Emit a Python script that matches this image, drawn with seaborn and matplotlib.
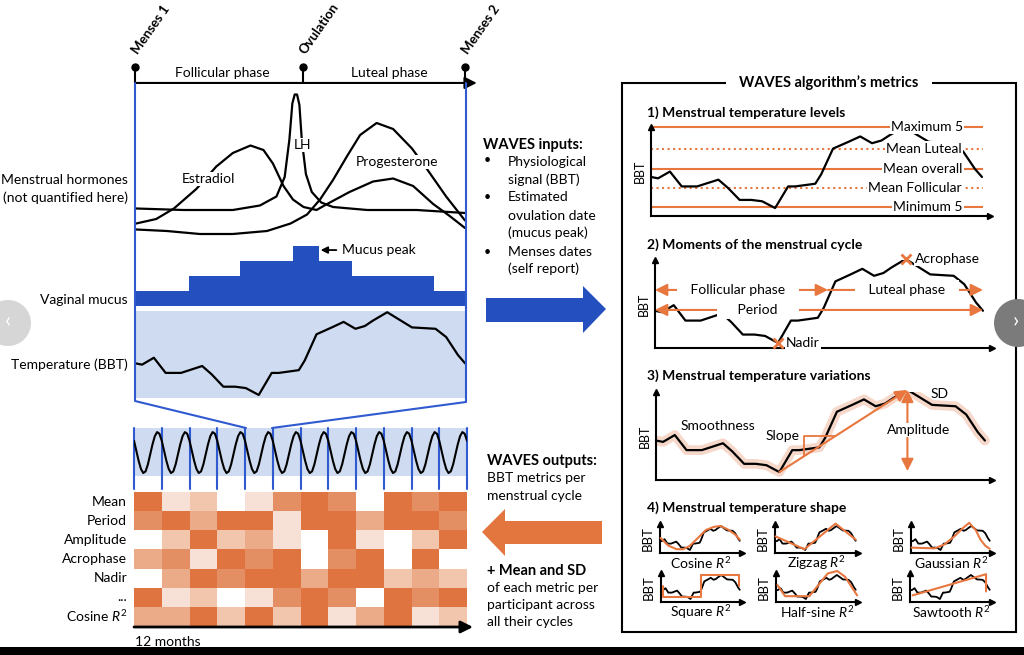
import numpy as np
import matplotlib.pyplot as plt
import seaborn as sns
from matplotlib.colors import ListedColormap
from matplotlib.patches import Rectangle, Circle, Polygon

# ---------------- data ----------------
# one menstrual cycle, day 0 - 28, hormone levels in arbitrary units
estradiol_day = [0.1, 1.8, 3.3, 5.2, 6.9, 8.3, 9.8, 10.9, 11.7, 12.6, 13.4, 14.3, 15.4, 16.3,
                 18.2, 20.2, 21.9, 23.6, 25.3, 26.7, 28.0]
estradiol_lvl = [0.11, 0.14, 0.21, 0.34, 0.49, 0.58, 0.63, 0.60, 0.51, 0.36, 0.27, 0.22, 0.20, 0.24,
                 0.32, 0.39, 0.41, 0.36, 0.24, 0.16, 0.08]
lh_day = [0.1, 4.1, 8.3, 10.6, 12.0, 12.7, 13.1, 13.35, 13.55, 13.75, 13.95, 14.15, 14.5, 15.0,
          15.8, 16.8, 19.7, 23.9, 28.0]
lh_lvl = [0.21, 0.20, 0.20, 0.23, 0.29, 0.42, 0.67, 0.91, 0.97, 0.97, 0.90, 0.67, 0.44, 0.32,
          0.25, 0.22, 0.20, 0.20, 0.18]
progesterone_day = [0.1, 2.7, 5.5, 8.3, 11.2, 13.2, 14.6, 15.7, 16.8, 18.0, 19.1, 20.5, 21.9,
                    23.5, 24.8, 26.4, 28.0]
progesterone_lvl = [0.07, 0.06, 0.04, 0.04, 0.06, 0.11, 0.17, 0.27, 0.40, 0.56, 0.70, 0.78, 0.74,
                    0.61, 0.47, 0.29, 0.13]

# vaginal mucus score (step profile)
mucus_edges = [0, 4.6, 8.9, 13.4, 15.6, 18.4, 25.4, 28]
mucus_score = [1, 2, 3, 4, 3, 2, 1]

event_names = ['Menses 1', 'Ovulation', 'Menses 2']
event_days = [0, 14.25, 28]
phase_names = ['Follicular phase', 'Luteal phase']
phase_mid = [7.4, 21.55]

# basal body temperature over one cycle
bbt_day = [0, 0.6, 1.6, 2.6, 3.9, 5.7, 6.5, 7.5, 8.5, 9.4, 10.5, 11.6, 12.2, 13.9, 14.4, 15.4,
           16.7, 17.7, 18.7, 19.5, 20.2, 21.4, 23.5, 25.5, 26.4, 27.4, 28]
bbt_temp = [36.43, 36.42, 36.47, 36.36, 36.36, 36.41, 36.35, 36.26, 36.26, 36.25, 36.20, 36.36,
            36.36, 36.38, 36.45, 36.64, 36.69, 36.73, 36.68, 36.70, 36.74, 36.80, 36.69, 36.68,
            36.62, 36.49, 36.43]

# one cycle of the schematic 12-month wave (relative level)
wave_cycle = [0.79, 0.55, 0.30, 0.10, 0.00, 0.04, 0.21, 0.45, 0.70, 0.90, 1.00, 0.96]
n_months = 12

# metrics per cycle (0 = white ... 5 = dark orange)
metric_names = ['Mean', 'Period', 'Amplitude', 'Acrophase', 'Nadir', '...', 'Cosine $R^2$']
mean_row = [5, 1, 2, 0, 1, 4, 5, 4, 0, 5, 4, 5]
period_row = [4, 5, 3, 5, 5, 1, 5, 5, 3, 5, 5, 4]
amplitude_row = [0, 2, 5, 2, 3, 1, 0, 5, 1, 0, 2, 5]
acrophase_row = [3, 4, 1, 5, 4, 5, 0, 4, 5, 0, 5, 0]
nadir_row = [0, 3, 5, 4, 5, 5, 3, 5, 5, 2, 3, 2]
other_row = [5, 1, 2, 0, 1, 4, 5, 4, 0, 5, 4, 5]
cosine_row = [3, 3, 5, 2, 5, 2, 5, 1, 3, 5, 1, 2]

level_names = ['Maximum 5', 'Mean Luteal', 'Mean overall', 'Mean Follicular', 'Minimum 5']
level_temps = [36.80, 36.64, 36.49, 36.35, 36.205]

ovulation_day = 14.77

# fitted shapes (panel 4)
shape_names = ['Cosine', 'Zigzag', 'Gaussian', 'Square', 'Half-sine', 'Sawtooth']
cosine_day = [0.2, 2.9, 5.8, 8.1, 10.4, 13.3, 16.1, 19.0, 21.3, 24.2, 26.5, 28.0]
cosine_temp = [36.50, 36.31, 36.22, 36.22, 36.30, 36.50, 36.70, 36.78, 36.80, 36.70, 36.58, 36.46]
zigzag_day = [0.2, 10.2, 21.0, 28.0]
zigzag_temp = [36.54, 36.22, 36.86, 36.46]
gaussian_day = [0.2, 8.4, 11.9, 15.4, 18.3, 20.7, 23.0, 24.7, 26.5, 28.0]
gaussian_temp = [36.26, 36.24, 36.34, 36.54, 36.74, 36.88, 36.70, 36.46, 36.30, 36.23]
square_day = [0.6, 0.6, 14.2, 14.2, 27.7, 27.7]
square_temp = [36.52, 36.26, 36.26, 36.80, 36.80, 36.52]
halfsine_day = [0.5, 3.2, 11.7, 14.9, 18.2, 21.5, 24.2, 26.4, 28.5]
halfsine_temp = [36.55, 36.27, 36.27, 36.55, 36.84, 36.90, 36.76, 36.52, 36.29]
sawtooth_day = [0.9, 26.7, 26.7]
sawtooth_temp = [36.29, 36.82, 36.39]

# ---------------- style ----------------
sns.set_theme(style='white')
plt.rcParams['font.family'] = ['Lato', 'DejaVu Sans']
plt.rcParams['mathtext.fontset'] = 'custom'
plt.rcParams['mathtext.rm'] = 'Lato'
plt.rcParams['mathtext.it'] = 'Lato:italic'
plt.rcParams['text.color'] = 'black'
plt.rcParams['ytick.color'] = 'black'

BLUE = '#244fbf'
BLUE_LINE = '#2f5ad0'
LIGHT_BLUE = '#cfdbf0'
ORANGE = '#e8773f'
ORANGE_ARROW = '#e3753e'
HALO = '#f6d8ca'
HEAT_COLORS = ['#ffffff', '#f7e1d6', '#f1c6ad', '#ebaa88', '#e48f63', '#e07440']
FS = 10

W, H = 1024, 655
fig = plt.figure(figsize=(W / 100, H / 100), dpi=100)


def px_axes(x0, y0, x1, y1, **kw):
    # axes placed with pixel box (origin top-left)
    return fig.add_axes([x0 / W, 1 - y1 / H, (x1 - x0) / W, (y1 - y0) / H], **kw)


def curve(ax, x, y, **kw):
    sns.lineplot(x=x, y=y, ax=ax, estimator=None, sort=False, legend=False, **kw)


def panel_axes(box, xmax, ylim, ms=5):
    ax = px_axes(*box)
    ax.set_xticks([])
    ax.set_yticks([])
    sns.despine(ax=ax)
    for s in ('left', 'bottom'):
        ax.spines[s].set_color('black')
        ax.spines[s].set_linewidth(1.5)
    ax.plot(1, 0, '>', color='black', ms=ms, transform=ax.transAxes, clip_on=False)
    ax.plot(0, 1, '^', color='black', ms=ms, transform=ax.transAxes, clip_on=False)
    ax.patch.set_alpha(0)
    ax.set_xlim(0, xmax)
    ax.set_ylim(*ylim)
    return ax


def bbt_label(ax, off=11, fs=9):
    ax.annotate('BBT', (0, 0.5), xycoords='axes fraction', xytext=(-off, 0),
                textcoords='offset pixels', rotation=90, ha='center', va='center', fontsize=fs)


def h_arrow(ax, x0, x1, y, style, color=ORANGE):
    ax.annotate('', xy=(x1, y), xytext=(x0, y),
                arrowprops=dict(arrowstyle=style + ',head_length=0.6,head_width=0.3',
                                color=color, lw=1.5, shrinkA=0, shrinkB=0),
                annotation_clip=False)


white_box = dict(boxstyle='square,pad=0.1', fc='white', ec='none')

# ---------------- left: hormones + timeline ----------------
hx = px_axes(135, 90, 465, 240)
hx.set_axis_off()
curve(hx, estradiol_day, estradiol_lvl, color='black', linewidth=1.6)
curve(hx, lh_day, lh_lvl, color='black', linewidth=1.6)
curve(hx, progesterone_day, progesterone_lvl, color='black', linewidth=1.6)
hx.text(6.2, 0.407, 'Estradiol', ha='center', va='center', fontsize=FS, bbox=white_box, zorder=5)
hx.text(14.2, 0.633, 'LH', ha='center', va='center', fontsize=FS, bbox=white_box, zorder=5)
hx.text(22.2, 0.52, 'Progesterone', ha='center', va='center', fontsize=FS, bbox=white_box, zorder=5)

y_axis, y_dot = 1.047, 1.153
h_arrow(hx, 0, 29.0, y_axis, '-|>', color='black')
for name, d in zip(event_names, event_days):
    hx.plot([d, d], [y_axis, y_dot], color='black', lw=1.5, clip_on=False)
    hx.plot(d, y_dot, 'o', color='black', ms=5, clip_on=False)
    hx.text(d + 0.25, 1.233, name, rotation=55, rotation_mode='anchor', ha='left',
            va='baseline', fontsize=9.5, fontweight='bold')
for name, d in zip(phase_names, phase_mid):
    hx.text(d, 1.113, name, ha='center', va='center', fontsize=FS)
hx.set_xlim(0, 28)
hx.set_ylim(0, 1)

# mucus
mx = px_axes(135, 240, 465, 306)
mx.stairs(mucus_score, mucus_edges, fill=True, color=BLUE, baseline=0)
mx.annotate('Mucus peak', xy=(15.75, 3.73), xytext=(17.6, 3.73), ha='left', va='center',
            fontsize=FS, arrowprops=dict(arrowstyle='-|>,head_length=0.4,head_width=0.2',
                                         color='black', lw=1.3, shrinkA=2, shrinkB=0,
                                         relpos=(0, 0.5)))
mx.set_xlim(0, 28)
mx.set_ylim(0, 4.4)
mx.set_axis_off()

# BBT
bx = px_axes(135, 311, 465, 398)
bx.set_facecolor(LIGHT_BLUE)
for s in bx.spines.values():
    s.set_visible(False)
curve(bx, bbt_day, bbt_temp, color='black', linewidth=1.6)
bx.set_xticks([])
bx.set_yticks([])
bx.set_xlim(0, 28)
bx.set_ylim(36.178, 36.809)

# 12-month strip
sx = px_axes(134, 428, 467, 489)
sx.set_axis_off()
sx.axhspan(-0.073, 1.10, color=LIGHT_BLUE, lw=0)
for m in range(n_months + 1):
    sx.axvline(m, color=BLUE_LINE, lw=1.5, clip_on=False)
wave = wave_cycle * n_months + [wave_cycle[0]]
wave_x = [i / len(wave_cycle) for i in range(len(wave))]
curve(sx, wave_x, wave, color='black', linewidth=1.5)
sx.set_xlim(0, n_months)
sx.set_ylim(-0.39, 1.10)

# heatmap of metrics
hm = px_axes(134, 492, 467, 626)
heat = np.array([mean_row, period_row, amplitude_row, acrophase_row, nadir_row, other_row, cosine_row])
sns.heatmap(heat, cmap=ListedColormap(HEAT_COLORS), vmin=-0.5, vmax=5.5, cbar=False,
            xticklabels=False, yticklabels=metric_names, ax=hm)
hm.tick_params(axis='y', length=0, pad=5, labelsize=FS, rotation=0)

# ---------------- right: WAVES metrics ----------------
# 1) levels
p1 = panel_axes((651, 127, 990, 216), 28.68, (36.141, 36.80))
bbt_label(p1)
dotted = {'Mean Luteal', 'Mean Follicular'}
for name, t, lx in zip(level_names, level_temps, [23.35, 23.1, 23.0, 22.33, 23.43]):
    p1.hlines(t, 0, 28.08, color=ORANGE, lw=1.5, linestyles=':' if name in dotted else '-',
              clip_on=False, zorder=1)
    p1.text(lx, t, name, ha='center', va='center', fontsize=FS, zorder=5, bbox=white_box)
curve(p1, bbt_day, bbt_temp, color='black', linewidth=1.6, zorder=3)

nadir_i = int(np.argmin(bbt_temp))
acro_i = int(np.argmax(bbt_temp))
nadir_day, nadir_temp = bbt_day[nadir_i], bbt_temp[nadir_i]
acro_day, acro_temp = bbt_day[acro_i], bbt_temp[acro_i]

# 2) moments
p2 = panel_axes((655, 260, 992, 348), 28.77, (36.164, 36.793))
bbt_label(p2)
curve(p2, bbt_day, bbt_temp, color='black', linewidth=1.6, zorder=2)
h_arrow(p2, 0, ovulation_day, 36.579, '<|-|>')
h_arrow(p2, ovulation_day, 28, 36.579, '-|>')
h_arrow(p2, 0, 28, 36.436, '<|-|>')
lab_box = dict(boxstyle='square,pad=0.25', fc='white', ec='none')
p2.text(7.09, 36.579, '   Follicular phase   ', ha='center', va='center', fontsize=FS, zorder=5, bbox=lab_box)
p2.text(21.5, 36.579, '   Luteal phase   ', ha='center', va='center', fontsize=FS, zorder=5, bbox=lab_box)
p2.text(8.79, 36.436, '     Period     ', ha='center', va='center', fontsize=FS, zorder=5, bbox=lab_box)
p2.plot(nadir_day, nadir_temp, 'x', color=ORANGE, ms=7, mew=2, clip_on=False, zorder=6)
p2.plot(acro_day, acro_temp, 'x', color=ORANGE, ms=7, mew=2, clip_on=False, zorder=6)
p2.text(12.63, nadir_temp, 'Nadir', ha='center', va='center', fontsize=FS, zorder=5, bbox=white_box)
p2.text(25.0, acro_temp, 'Acrophase', ha='center', va='center', fontsize=FS, zorder=5, bbox=white_box)

# 3) variations
p3 = panel_axes((656, 392, 992, 480), 28.6, (36.142, 36.784))
bbt_label(p3)
curve(p3, bbt_day, bbt_temp, color=HALO, linewidth=7, zorder=1,
      solid_capstyle='round', solid_joinstyle='round')
curve(p3, bbt_day, bbt_temp, color='black', linewidth=1.6, zorder=2)
p3.annotate('', xy=(acro_day, acro_temp), xytext=(nadir_day, nadir_temp),
            arrowprops=dict(arrowstyle='-|>,head_length=0.6,head_width=0.3', color=ORANGE,
                            lw=1.5, shrinkA=0, shrinkB=0), annotation_clip=False)
p3.plot([12.6, 12.6, 15.2], [36.318, 36.463, 36.463], color=ORANGE, lw=1.3, zorder=3)
p3.annotate('', xy=(acro_day, 36.207), xytext=(acro_day, acro_temp),
            arrowprops=dict(arrowstyle='<|-|>,head_length=0.6,head_width=0.3', color=ORANGE,
                            lw=1.5, shrinkA=0, shrinkB=0), annotation_clip=False)
p3.text(22.38, 36.507, 'Amplitude', ha='center', va='center', fontsize=FS, zorder=5, bbox=white_box)
p3.text(5.28, 36.536, 'Smoothness', ha='center', va='center', fontsize=FS)
p3.text(10.8, 36.463, 'Slope', ha='center', va='center', fontsize=FS)
p3.text(24.17, 36.77, 'SD', ha='center', va='center', fontsize=FS)

# 4) shapes
shape_boxes = [(660, 524, 742, 553), (775, 524, 858, 553), (911, 524, 992, 553),
               (661, 573, 742, 602), (776, 573, 858, 602), (910, 573, 992, 602)]
shape_fits = [(cosine_day, cosine_temp), (zigzag_day, zigzag_temp), (gaussian_day, gaussian_temp),
              (square_day, square_temp), (halfsine_day, halfsine_temp), (sawtooth_day, sawtooth_temp)]
for box, name, (fd, ft) in zip(shape_boxes, shape_names, shape_fits):
    ax = panel_axes(box, 28.8, (36.125, 36.85), ms=4)
    bbt_label(ax, off=12, fs=9.5)
    curve(ax, bbt_day, bbt_temp, color='black', linewidth=1.3, zorder=2)
    curve(ax, fd, ft, color=ORANGE, linewidth=1.5, zorder=3, clip_on=False)
    ax.annotate(name + ' $R^2$', (0.5, 0), xycoords='axes fraction', xytext=(0, -10),
                textcoords='offset pixels', ha='center', va='center', fontsize=FS)

# ---------------- overlay: frames, arrows, notes ----------------
ov = fig.add_axes([0, 0, 1, 1], zorder=10)
ov.set_xlim(0, W)
ov.set_ylim(H, 0)
ov.set_axis_off()

ov.plot([135, 135, 246], [83, 401, 428], color=BLUE_LINE, lw=1.5)
ov.plot([466, 466, 272], [83, 402, 428], color=BLUE_LINE, lw=1.5)

for txt, y in [('Menstrual hormones', 180), ('(not quantified here)', 198),
               ('Vaginal mucus', 300), ('Temperature (BBT)', 365)]:
    ov.text(128, y, txt, ha='right', va='center', fontsize=FS)

ov.annotate('', xy=(473, 627), xytext=(134, 627),
            arrowprops=dict(arrowstyle='-|>,head_length=0.6,head_width=0.3', color='black',
                            lw=2, shrinkA=0, shrinkB=0))
ov.text(135, 642, '12 months', ha='left', va='center', fontsize=FS)

ov.text(483, 145, 'WAVES inputs:', ha='left', va='center', fontsize=10.5, fontweight='bold')
for y in (160, 197, 252):
    ov.text(487, y, '•', ha='center', va='center', fontsize=9)
for txt, y in [('Physiological', 162), ('signal (BBT)', 180), ('Estimated', 197),
               ('ovulation date', 216), ('(mucus peak)', 233), ('Menses dates', 252),
               ('(self report)', 269)]:
    ov.text(508, y, txt, ha='left', va='center', fontsize=FS)

ov.add_patch(Polygon([(486, 298), (583, 298), (583, 286), (606, 309), (583, 333), (583, 322),
                      (486, 322)], closed=True, color=BLUE, lw=0))
ov.add_patch(Polygon([(602, 521), (505, 521), (505, 509), (482, 532), (505, 556), (505, 544),
                      (602, 544)], closed=True, color=ORANGE_ARROW, lw=0))

ov.text(487, 461, 'WAVES outputs:', ha='left', va='center', fontsize=10.5, fontweight='bold')
ov.text(487, 478, 'BBT metrics per', ha='left', va='center', fontsize=FS)
ov.text(487, 496, 'menstrual cycle', ha='left', va='center', fontsize=FS)
ov.text(487, 571, '+ Mean and SD', ha='left', va='center', fontsize=10.5, fontweight='bold')
for txt, y in [('of each metric per', 588), ('participant across', 605), ('all their cycles', 622)]:
    ov.text(487, y, txt, ha='left', va='center', fontsize=FS)

ov.add_patch(Rectangle((622, 83), 394, 549, fill=False, ec='black', lw=1.5))
ov.text(829, 83, 'WAVES algorithm’s metrics', ha='center', va='center', fontsize=10.5,
        fontweight='bold', bbox=dict(boxstyle='square,pad=0.9', fc='white', ec='none'))
for txt, y in [('1) Menstrual temperature levels', 113), ('2) Moments of the menstrual cycle', 245),
               ('3) Menstrual temperature variations', 376), ('4) Menstrual temperature shape', 508)]:
    ov.text(647, y, txt, ha='left', va='center', fontsize=FS, fontweight='bold')

# page overlay elements visible in the screenshot
ov.add_patch(Circle((8, 323), 23, color='#d6d6d6', lw=0))
ov.text(8, 321, '‹', ha='center', va='center', fontsize=16, color='white')
ov.add_patch(Circle((1018, 323), 24, color='#7b7b7b', lw=0))
ov.text(1016, 321, '›', ha='center', va='center', fontsize=16, color='white')
ov.add_patch(Rectangle((0, 647), W, 8, color='black', lw=0))

fig.savefig('out.png', dpi=100)
